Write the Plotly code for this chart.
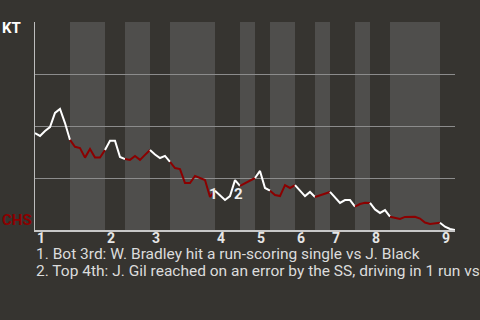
import plotly.graph_objects as go

# Win probability for KT (%) at each event
win_prob = [46.6, 45.2, 47.6, 49.5, 56.3, 58.2, 51.4, 43.3,
            40.0, 39.4, 34.8, 38.9, 34.8, 34.8, 38.5,
            42.9, 42.9, 35.1, 34.1,
            33.7, 35.6, 33.7, 36.1, 38.5,
            36.3, 34.6, 35.6, 32.8,
            29.8, 29.3, 22.6, 22.6, 26.0, 25.0, 24.0, 15.9, 18.9,
            16.6, 14.4, 16.3, 24.0, 21.2,
            22.6, 24.0, 25.0,
            28.4, 20.2, 18.9,
            16.8, 16.3, 21.6, 20.2, 21.6,
            19.2, 16.3, 18.3, 15.9,
            16.8, 17.5, 18.3,
            15.4, 13.0, 14.4, 14.4, 11.2,
            12.5, 13.1, 13.0,
            9.9, 8.2, 9.6, 6.4,
            5.8, 5.3, 6.3, 6.4, 6.4, 5.5, 3.6, 2.9, 3.1, 3.5,
            1.6, 0.5, 0.0]

# event index where each half-inning ends (first entry = game start)
half_bounds = [0, 7, 14, 18, 23, 27, 36, 41, 44, 47, 52, 56, 59, 64, 67, 71, 81, 84]
inning_labels = ["1", "2", "3", "4", "5", "6", "7", "8", "9"]
key_events = [35.6, 40.6]
key_event_y = [17.1, 17.5]
key_labels = ["1", "2"]
notes = ["1. Bot 3rd: W. Bradley hit a run-scoring single vs J. Black",
         "2. Top 4th: J. Gil reached on an error by the SS, driving in 1 run vs R."]
teams = ["KT", "CHS"]

BG = "#363430"
BAND = "#4f4e4c"
RED = "#8b0000"
WHITE = "#ffffff"

fig = go.Figure()

shapes = []
for i in range(len(half_bounds) - 1):
    if i % 2 == 1:
        shapes.append(dict(type="rect", xref="x", yref="paper",
                           x0=half_bounds[i], x1=half_bounds[i + 1], y0=0, y1=1,
                           fillcolor=BAND, line=dict(width=0), layer="below"))

xs = list(range(len(win_prob)))
for i in range(len(half_bounds) - 1):
    a, b = half_bounds[i], half_bounds[i + 1]
    fig.add_trace(go.Scatter(x=xs[a:b + 1], y=win_prob[a:b + 1], mode="lines",
                             line=dict(color=WHITE if i % 2 == 0 else RED, width=2),
                             hoverinfo="skip", showlegend=False))

annotations = []
top_starts = half_bounds[0:-1:2]
for lab, xv in zip(inning_labels, top_starts):
    annotations.append(dict(x=xv, y=0, xref="x", yref="paper", text=lab,
                            showarrow=False, xanchor="left", yanchor="top", yshift=2,
                            font=dict(family="Roboto", size=14, color="#e6e6e6", weight="bold")))
for lab, xv, yv in zip(key_labels, key_events, key_event_y):
    annotations.append(dict(x=xv, y=yv, xref="x", yref="y", text=lab, showarrow=False,
                            font=dict(family="Roboto", size=15, color="#eeeeee", weight="bold")))
for k, t in enumerate(notes):
    annotations.append(dict(x=0, y=0, xref="paper", yref="paper", text=t, showarrow=False,
                            xanchor="left", yanchor="middle", xshift=-1, yshift=-24 - 17 * k,
                            font=dict(family="Roboto", size=15.5, color="#dcdcdc")))
annotations.append(dict(x=0, y=1, xref="paper", yref="paper", text=teams[0], showarrow=False,
                        xanchor="left", yanchor="middle", xshift=-35, yshift=-6,
                        font=dict(family="Roboto", size=15, color="#ffffff", weight="bold")))
annotations.append(dict(x=0, y=0, xref="paper", yref="paper", text=teams[1], showarrow=False,
                        xanchor="left", yanchor="middle", xshift=-35, yshift=10,
                        font=dict(family="Roboto", size=15, color=RED, weight="bold")))

fig.update_layout(
    width=480, height=320,
    margin=dict(l=35, r=25, t=22, b=90),
    paper_bgcolor=BG, plot_bgcolor=BG,
    shapes=shapes, annotations=annotations,
    xaxis=dict(range=[0, 84], showgrid=False, zeroline=False, showticklabels=False,
               showline=True, linecolor="#c8c8c8", linewidth=2),
    yaxis=dict(range=[0, 100], tickvals=[25, 50, 75, 100], showgrid=True,
               gridcolor="#8c8c8c", gridwidth=1, zeroline=False, showticklabels=False,
               showline=True, linecolor="#bdbdbd", linewidth=1),
)

fig.write_html("out.html")
